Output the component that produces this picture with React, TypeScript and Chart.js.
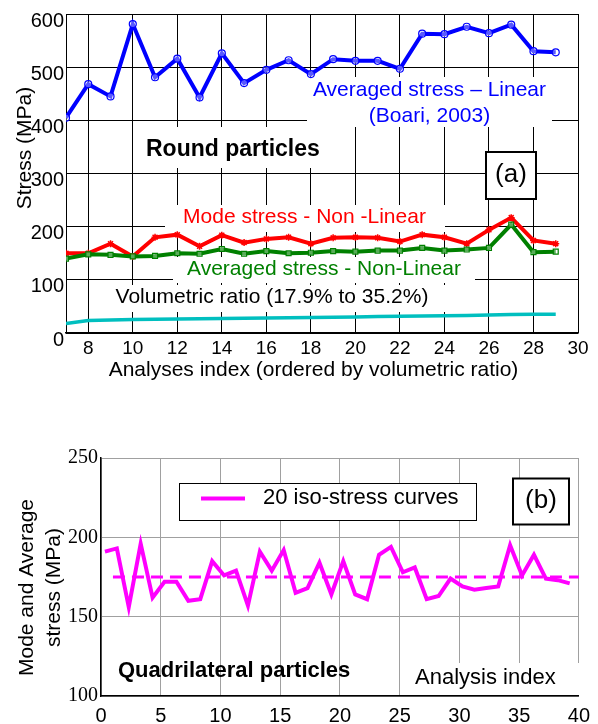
import { useEffect, useRef } from "react";
import { Chart, registerables } from "chart.js";

Chart.register(...registerables);

// (a) Round particles — analyses ordered by volumetric ratio
const roundIndex = [7, 8, 9, 10, 11, 12, 13, 14, 15, 16, 17, 18, 19, 20, 21, 22, 23, 24, 25, 26, 27, 28, 29];
const linearAvgStress = [405, 468, 445, 581, 481, 516, 443, 526, 470, 495, 513, 487, 515, 512, 512, 497, 563, 562, 576, 564, 580, 530, 528];
const nonLinearModeStress = [150, 150, 168, 144, 180, 185, 163, 184, 170, 177, 180, 168, 179, 180, 179, 172, 185, 180, 168, 194, 217, 174, 168];
const nonLinearAvgStress = [140, 148, 147, 144, 145, 150, 149, 158, 149, 154, 150, 151, 154, 153, 155, 155, 160, 155, 157, 160, 204, 152, 153];
const volumetricRatio = [17.9, 23.5, 24.5, 25.3, 25.8, 26.3, 26.8, 27.3, 27.8, 28.3, 28.8, 29.3, 29.8, 30.3, 30.8, 31.3, 31.8, 32.3, 32.8, 34.0, 35.0, 35.1, 35.2];
const roundXTicks = [8, 10, 12, 14, 16, 18, 20, 22, 24, 26, 28, 30];

// (b) Quadrilateral particles — 20 iso-stress curves
const quadIndex = [1, 2, 3, 4, 5, 6, 7, 8, 9, 10, 11, 12, 13, 14, 15, 16, 17, 18, 19, 20, 21, 22, 23, 24, 25, 26, 27, 28, 29, 30, 31, 32, 33, 34, 35, 36, 37, 38, 39, 40];
const quadStress = [191, 193, 156, 196, 162, 172, 172, 160, 161, 185, 176, 179, 157, 191, 179, 192, 165, 168, 184, 164, 185, 164, 161, 189, 194, 178, 181, 161, 163, 174, 169, 167, 168, 169, 195, 176, 189, 174, 173, 171];
const quadMeanStress = 175;
const quadMeanSpan = [1, 40];

const SANS = '"Liberation Sans", Arial, sans-serif';
const SERIF = '"Liberation Serif", "Times New Roman", serif';

const pts = (xs: number[], ys: number[]) => xs.map((x, i) => ({ x, y: ys[i] }));

function whiteBox(ctx: CanvasRenderingContext2D, x0: number, y0: number, x1: number, y1: number, border = 0) {
  ctx.fillStyle = "#ffffff";
  ctx.fillRect(x0, y0, x1 - x0, y1 - y0);
  if (border > 0) {
    ctx.strokeStyle = "#000000";
    ctx.lineWidth = border;
    ctx.strokeRect(x0, y0, x1 - x0, y1 - y0);
  }
}

function note(
  ctx: CanvasRenderingContext2D,
  text: string,
  x: number,
  y: number,
  font: string,
  color = "#000000",
  align: CanvasTextAlign = "center",
  rotate = 0
) {
  ctx.save();
  ctx.translate(x, y);
  if (rotate) ctx.rotate(rotate);
  ctx.font = font;
  ctx.fillStyle = color;
  ctx.textAlign = align;
  ctx.textBaseline = "middle";
  ctx.fillText(text, 0, 0);
  ctx.restore();
}

const roundNotes = {
  id: "roundNotes",
  beforeDatasetsDraw(chart: Chart) {
    const ctx = chart.ctx;
    ctx.save();
    whiteBox(ctx, 307, 77, 552, 127);
    note(ctx, "Averaged stress – Linear", 429.5, 90, `21px ${SANS}`, "#0000ff");
    note(ctx, "(Boari, 2003)", 429.5, 116, `21px ${SANS}`, "#0000ff");

    whiteBox(ctx, 138, 127, 330, 168);
    note(ctx, "Round particles", 146, 150, `bold 23px ${SANS}`, "#000000", "left");

    whiteBox(ctx, 486, 152, 536, 199, 2);
    note(ctx, "(a)", 511, 175, `26px ${SANS}`);

    whiteBox(ctx, 165, 205, 445, 232);
    note(ctx, "Mode stress - Non -Linear", 304.5, 217, `21px ${SANS}`, "#ff0000");

    whiteBox(ctx, 173, 257, 475, 283);
    note(ctx, "Averaged stress - Non-Linear", 324, 269, `21px ${SANS}`, "#008000");

    whiteBox(ctx, 95, 285, 480, 312);
    note(ctx, "Volumetric ratio (17.9% to 35.2%)", 272, 297, `21px ${SANS}`);

    note(ctx, "Stress (MPa)", 25, 148, `21px ${SANS}`, "#000000", "center", -Math.PI / 2);
    note(ctx, "Analyses index (ordered by volumetric ratio)", 313.5, 370, `21px ${SANS}`);
    ctx.restore();
  },
};

const quadNotes = {
  id: "quadNotes",
  beforeDatasetsDraw(chart: Chart) {
    const ctx = chart.ctx;
    ctx.save();
    // legend
    whiteBox(ctx, 179.5, 43.5, 476.5, 80.5, 1);
    ctx.strokeStyle = "#ff00ff";
    ctx.lineWidth = 4;
    ctx.beginPath();
    ctx.moveTo(201, 58.5);
    ctx.lineTo(245, 58.5);
    ctx.stroke();
    note(ctx, "20 iso-stress curves", 263, 58, `22px ${SANS}`, "#000000", "left");

    whiteBox(ctx, 513, 38.5, 569, 84.5, 2);
    note(ctx, "(b)", 541, 61, `26px ${SANS}`);

    note(ctx, "Quadrilateral particles", 118, 231, `bold 22px ${SANS}`, "#000000", "left");

    whiteBox(ctx, 410, 223, 583, 255);
    note(ctx, "Analysis index", 415, 238, `22px ${SANS}`, "#000000", "left");

    note(ctx, "Mode and Average", 27, 147.5, `21px ${SANS}`, "#000000", "center", -Math.PI / 2);
    note(ctx, "stress (MPa)", 54, 147.5, `21px ${SANS}`, "#000000", "center", -Math.PI / 2);
    ctx.restore();
  },
};

function RoundChart() {
  const ref = useRef<HTMLCanvasElement>(null);
  useEffect(() => {
    const chart = new Chart(ref.current!, {
      type: "line",
      data: {
        datasets: [
          {
            label: "Volumetric ratio",
            data: pts(roundIndex, volumetricRatio),
            borderColor: "#00bfbf",
            borderWidth: 3.5,
            pointRadius: 0,
          },
          {
            label: "Averaged stress - Non-Linear",
            data: pts(roundIndex, nonLinearAvgStress),
            borderColor: "#008000",
            borderWidth: 4,
            pointStyle: "rect",
            pointRadius: 3.5,
            pointBorderWidth: 1.2,
            pointBackgroundColor: "rgba(255,255,255,0.35)",
            pointBorderColor: "#008000",
          },
          {
            label: "Mode stress - Non-Linear",
            data: pts(roundIndex, nonLinearModeStress),
            borderColor: "#ff0000",
            borderWidth: 4,
            pointStyle: "star",
            pointRadius: 3.5,
            pointBorderWidth: 1.5,
            pointBorderColor: "#ff0000",
            pointBackgroundColor: "#ff0000",
          },
          {
            label: "Averaged stress - Linear",
            data: pts(roundIndex, linearAvgStress),
            borderColor: "#0000ff",
            borderWidth: 4,
            pointStyle: "circle",
            pointRadius: 3.5,
            pointBorderWidth: 1.2,
            pointBackgroundColor: "rgba(255,255,255,0.35)",
            pointBorderColor: "#0000ff",
          },
        ],
      },
      options: {
        responsive: false,
        animation: false,
        devicePixelRatio: 1,
        layout: { padding: { top: 12, right: 20, left: 0, bottom: 0 } },
        plugins: { legend: { display: false }, tooltip: { enabled: false } },
        elements: { line: { tension: 0 } },
        scales: {
          x: {
            type: "linear",
            min: 7,
            max: 30,
            afterBuildTicks: (s: any) => {
              s.ticks = roundXTicks.map((v) => ({ value: v }));
            },
            afterFit: (s: any) => {
              s.height = 57;
            },
            grid: { color: "#000000", lineWidth: 1, drawTicks: false },
            border: { color: "#000000", width: 1.5 },
            ticks: { color: "#000000", font: { family: SANS, size: 19 }, padding: 4, maxRotation: 0 },
          },
          y: {
            type: "linear",
            min: 0,
            max: 600,
            afterFit: (s: any) => {
              s.width = 66;
            },
            grid: { color: "#000000", lineWidth: 1, drawTicks: false },
            border: { color: "#000000", width: 1 },
            ticks: { stepSize: 100, color: "#000000", font: { family: SANS, size: 20 }, padding: 2, labelOffset: 7 },
          },
        },
      },
      plugins: [roundNotes],
    } as any);
    return () => chart.destroy();
  }, []);
  return (
    <canvas
      ref={ref}
      width={598}
      height={390}
      style={{ position: "absolute", left: 0, top: 0, width: 598, height: 390 }}
    />
  );
}

function QuadChart() {
  const ref = useRef<HTMLCanvasElement>(null);
  useEffect(() => {
    const chart = new Chart(ref.current!, {
      type: "line",
      data: {
        datasets: [
          {
            label: "Mean",
            data: pts(quadMeanSpan, quadMeanSpan.map(() => quadMeanStress)),
            borderColor: "#ff00ff",
            borderWidth: 3,
            borderDash: [12, 7],
            pointRadius: 0,
            xAxisID: "x",
          },
          {
            label: "20 iso-stress curves",
            data: pts(quadIndex, quadStress),
            borderColor: "#ff00ff",
            borderWidth: 4,
            pointRadius: 0,
            xAxisID: "xi",
          },
        ],
      },
      options: {
        responsive: false,
        animation: false,
        devicePixelRatio: 1,
        layout: { padding: { top: 18, right: 13, left: 0, bottom: 0 } },
        plugins: { legend: { display: false }, tooltip: { enabled: false } },
        elements: { line: { tension: 0 } },
        scales: {
          x: {
            type: "linear",
            min: 0,
            max: 40,
            afterFit: (s: any) => {
              s.height = 28;
            },
            grid: { color: "#a0a0a0", lineWidth: 1, drawTicks: false },
            border: { color: "#000000", width: 1.5 },
            ticks: { stepSize: 5, color: "#000000", font: { family: SANS, size: 20 }, padding: 8, maxRotation: 0 },
          },
          xi: {
            type: "linear",
            display: false,
            min: 0.67,
            max: 40.77,
          },
          y: {
            type: "linear",
            min: 100,
            max: 250,
            afterFit: (s: any) => {
              s.width = 101;
            },
            grid: { color: "#a0a0a0", lineWidth: 1, drawTicks: false },
            border: { color: "#000000", width: 1.5 },
            ticks: { stepSize: 50, color: "#000000", font: { family: SERIF, size: 20 }, padding: 3 },
          },
        },
      },
      plugins: [quadNotes],
    } as any);
    return () => chart.destroy();
  }, []);
  return (
    <canvas
      ref={ref}
      width={598}
      height={284}
      style={{ position: "absolute", left: 0, top: 440, width: 598, height: 284 }}
    />
  );
}

export default function App() {
  return (
    <div style={{ position: "absolute", left: 0, top: 0, width: 598, height: 724, background: "#ffffff", overflow: "hidden" }}>
      <RoundChart />
      <QuadChart />
    </div>
  );
}
